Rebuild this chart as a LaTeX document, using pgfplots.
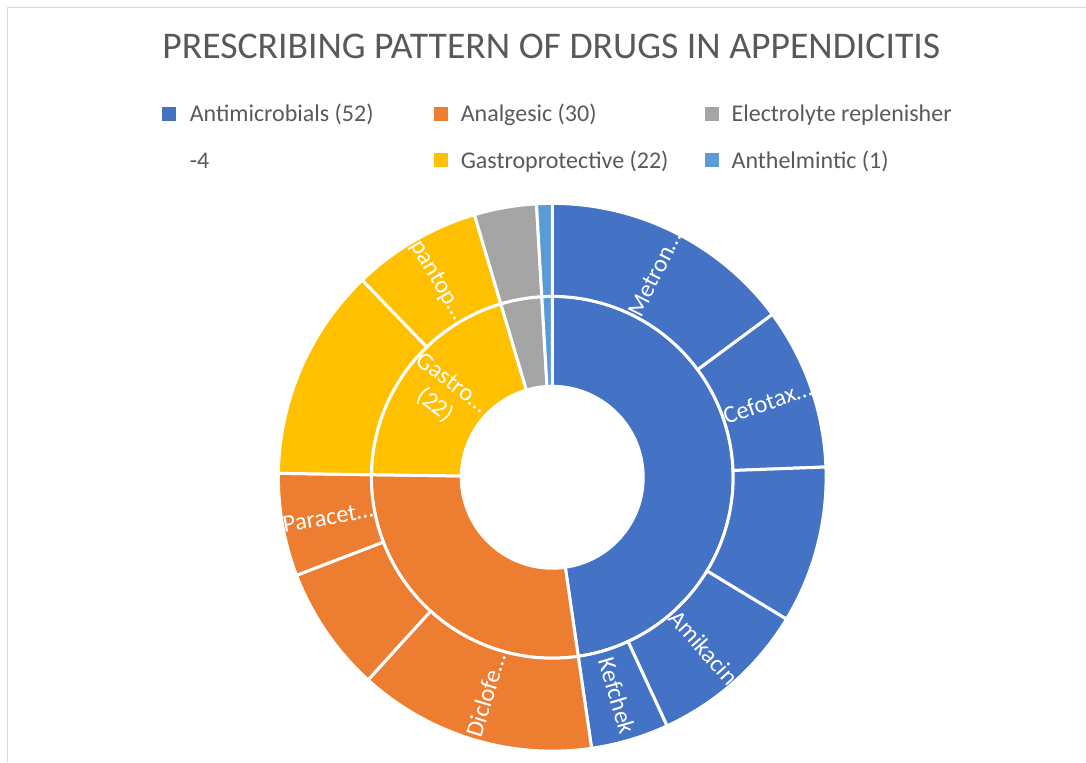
\documentclass[border=0pt]{standalone}
\usepackage{pgfplots}
\pgfplotsset{compat=1.18}
\usepackage{pgfplotstable}
\usepackage{fontspec}
\usepackage{etoolbox}
\setmainfont{Carlito}
\definecolor{cblue}{HTML}{4472C4}
\definecolor{corange}{HTML}{ED7D31}
\definecolor{cgray}{HTML}{A5A5A5}
\definecolor{cyellow}{HTML}{FFC000}
\definecolor{clblue}{HTML}{5B9BD5}
\definecolor{ctxt}{HTML}{595959}
\definecolor{cborder}{HTML}{D9D9D9}
\newcommand\lblfont{\fontsize{24.5}{28}\selectfont}
\newcommand\legfont{\fontsize{24}{28}\selectfont}
\newcommand\titlefont{\fontsize{37.7}{45}\selectfont}

% inner ring: drug classes
\pgfplotstableread[col sep=comma]{
v,c,lab
52,cblue,none
30,corange,none
22,cyellow,none
4,cgray,none
1,clblue,none
}\innertab
% outer ring: drugs
\pgfplotstableread[col sep=comma]{
v,c,lab
16.2,cblue,Metron…
10.4,cblue,Cefotax…
10.1,cblue,none
10.3,cblue,Amikacin
5.0,cblue,Kefchek
15.3,corange,Diclofe…
8.1,corange,none
6.6,corange,Paracet…
13.7,cyellow,none
8.3,cyellow,pantop…
4,cgray,none
1,clblue,none
}\outertab

\newcommand\drawring[4]{%
  \pgfplotstablegetrowsof{#1}%
  \pgfmathtruncatemacro\sgN{\pgfplotsretval-1}%
  \def\sgCum{0}%
  \pgfplotsforeachungrouped \sgI in {0,...,\sgN}{%
    \pgfplotstablegetelem{\sgI}{v}\of{#1}\let\sgV\pgfplotsretval
    \pgfplotstablegetelem{\sgI}{c}\of{#1}\let\sgC\pgfplotsretval
    \pgfplotstablegetelem{\sgI}{lab}\of{#1}\let\sgL\pgfplotsretval
    \pgfmathsetmacro\sgA{90-(\sgCum/109)*360}%
    \pgfmathsetmacro\sgCumN{\sgCum+\sgV}%
    \pgfmathsetmacro\sgB{90-(\sgCumN/109)*360}%
    \pgfmathsetmacro\sgM{(\sgA+\sgB)/2}%
    \pgfmathsetmacro\sgR{cos(\sgM)<-0.001 ? \sgM+180 : \sgM}%
    \edef\sgTmp{%
      \noexpand\fill[\sgC,draw=white,line width=3pt] ([shift={(\sgA:#3pt)}]C) arc[start angle=\sgA,end angle=\sgB,radius=#3pt] -- ([shift={(\sgB:#2pt)}]C) arc[start angle=\sgB,end angle=\sgA,radius=#2pt] -- cycle;%
    }%
    \sgTmp
    \ifdefstring{\sgL}{none}{}{%
      \edef\sgTmp{%
        \noexpand\node[text=white,font=\noexpand\lblfont,rotate=\sgR] at ([shift={(\sgM:#4pt)}]C) {\unexpanded\expandafter{\sgL}};%
      }%
      \sgTmp
    }%
    \let\sgCum\sgCumN
  }%
}

\begin{document}
\begin{tikzpicture}
\begin{axis}[
  width=1086pt, height=762pt, scale only axis,
  xmin=0, xmax=1086, ymin=0, ymax=762,
  hide axis, clip=false,
  legend columns=3, legend cell align=left,
  legend style={
    at={(axis description cs:0.1496,0.8665)}, anchor=north west,
    draw=none, fill=none, inner sep=0pt, outer sep=0pt,
    font=\legfont, text=ctxt,
    column sep=0pt, row sep=23.4pt,
    nodes={inner sep=0pt, text height=20pt, text depth=3.2pt},
    /tikz/column 1/.style={column sep=14pt},
    /tikz/column 2/.style={column sep=60.4pt},
    /tikz/column 3/.style={column sep=13.4pt},
    /tikz/column 4/.style={column sep=36.4pt},
    /tikz/column 5/.style={column sep=13.4pt},
  },
]
\path (axis cs:0,0) rectangle (axis cs:1086,762);
\draw[cborder, line width=1pt] (axis cs:7.5,0) -- (axis cs:7.5,754) -- (axis cs:1086,754);
\coordinate (C) at (axis cs:552.5,284.5);

\drawring{\innertab}{91}{181}{137}
\drawring{\outertab}{181}{274}{228}
\node[text=white, font=\lblfont, align=center, rotate=-37.2] at ([shift={(142.8:137pt)}]C) {Gastro…\\(22)};

\node[anchor=base, font=\titlefont, text=ctxt] at (axis cs:551.5,703.7) {PRESCRIBING PATTERN OF DRUGS IN APPENDICITIS};

\addlegendimage{legend image code/.code={\fill[cblue] (0pt,-6.5pt) rectangle (13pt,6.5pt);}}
\addlegendentry{Antimicrobials (52)}
\addlegendimage{legend image code/.code={\fill[corange] (0pt,-6.5pt) rectangle (13pt,6.5pt);}}
\addlegendentry{Analgesic (30)}
\addlegendimage{legend image code/.code={\fill[cgray] (0pt,-6.5pt) rectangle (13pt,6.5pt);}}
\addlegendentry{Electrolyte replenisher}
\addlegendimage{empty legend}
\addlegendentry{-4}
\addlegendimage{legend image code/.code={\fill[cyellow] (0pt,-6.5pt) rectangle (13pt,6.5pt);}}
\addlegendentry{Gastroprotective (22)}
\addlegendimage{legend image code/.code={\fill[clblue] (0pt,-6.5pt) rectangle (13pt,6.5pt);}}
\addlegendentry{Anthelmintic (1)}
\end{axis}
\end{tikzpicture}
\end{document}
